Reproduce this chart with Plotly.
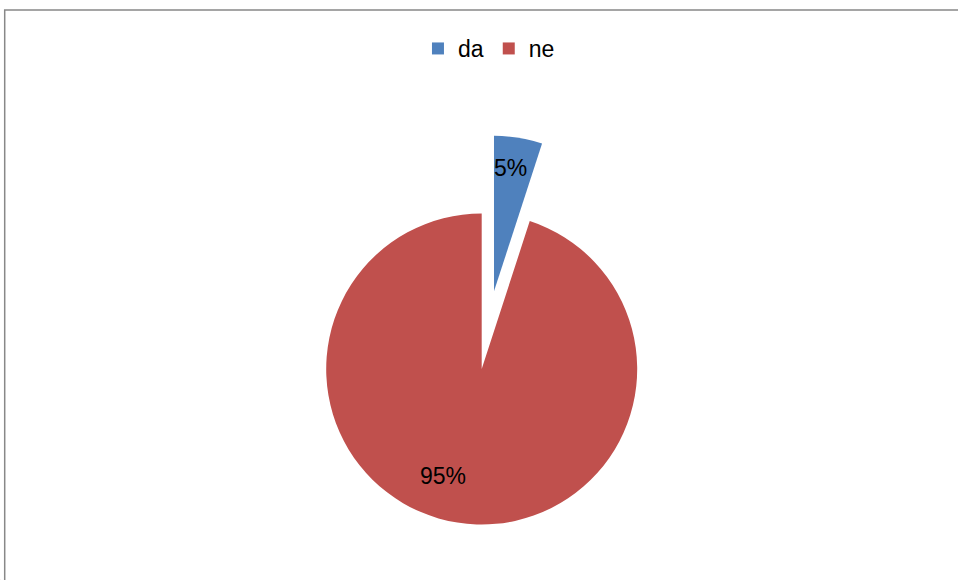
import math
import plotly.graph_objects as go

# ---- data ----
categories = ["da", "ne"]
values = [5, 95]
colors = ["#4F81BD", "#C0504D"]

# ---- layout geometry (pixels) ----
W, H = 958, 580
CX, CY, R = 481.7, 369.0, 155.5
PULL_PX = 78.6                 # explode distance of the "da" slice
LABEL_R = [0.80, 0.73]         # label radius as fraction of R
LABEL_ANG = [7.7, 200.0]       # label angle, degrees clockwise from 12 o'clock
FONT = "Liberation Sans, Arial, sans-serif"

total = sum(values)
pct_text = [f"{round(v / total * 100)}%" for v in values]

def domain(cx, cy, r):
    return dict(x=[(cx - r) / W, (cx + r) / W],
                y=[1 - (cy + r) / H, 1 - (cy - r) / H])

# bisector angle of the exploded first slice (clockwise from 12 o'clock)
mid = math.radians(360 * values[0] / total / 2)
bx, by = CX + PULL_PX * math.sin(mid), CY - PULL_PX * math.cos(mid)
centers = [(bx, by), (CX, CY)]

transparent = "rgba(0,0,0,0)"
common = dict(labels=categories, values=values, sort=False,
              direction="clockwise", rotation=0, textinfo="none",
              hoverinfo="label+percent", marker=dict(line=dict(width=0)))

fig = go.Figure()
# legend-only pie (sub-pixel size)
fig.add_trace(go.Pie(labels=categories, values=values, sort=False,
                     marker=dict(colors=colors), textinfo="none",
                     domain=dict(x=[0, 0.0005], y=[0, 0.0005]),
                     hoverinfo="skip", showlegend=True))
# main pie, remaining slices
fig.add_trace(go.Pie(**common, marker_colors=[transparent, colors[1]],
                     domain=domain(CX, CY, R), showlegend=False))
# exploded slice
fig.add_trace(go.Pie(**common, marker_colors=[colors[0], transparent],
                     domain=domain(bx, by, R), showlegend=False))

annotations = []
for i, txt in enumerate(pct_text):
    cx, cy = centers[i]
    a = math.radians(LABEL_ANG[i])
    px = cx + LABEL_R[i] * R * math.sin(a)
    py = cy - LABEL_R[i] * R * math.cos(a)
    annotations.append(dict(text=txt, x=px / W, y=1 - py / H,
                            xref="paper", yref="paper", showarrow=False,
                            xanchor="center", yanchor="middle",
                            font=dict(family=FONT, size=23, color="#000000")))

fig.update_layout(
    width=W, height=H,
    margin=dict(l=0, r=0, t=0, b=0),
    paper_bgcolor="white", plot_bgcolor="white",
    font=dict(family=FONT, size=22, color="#000000"),
    legend=dict(orientation="h", x=0.5104, xanchor="center",
                y=1 - 27 / H, yanchor="top",
                font=dict(family=FONT, size=23, color="#000000"),
                itemwidth=30, tracegroupgap=0),
    annotations=annotations,
    shapes=[dict(type="rect", xref="paper", yref="paper",
                 x0=4.7 / W, x1=1.05, y0=-0.05, y1=1 - 10 / H,
                 line=dict(color="#888888", width=1.5))],
)

fig.write_html(
    "out.html",
    config={"displayModeBar": False},
    post_script="document.body.style.margin='0';"
                "document.body.style.overflow='hidden';",
)
